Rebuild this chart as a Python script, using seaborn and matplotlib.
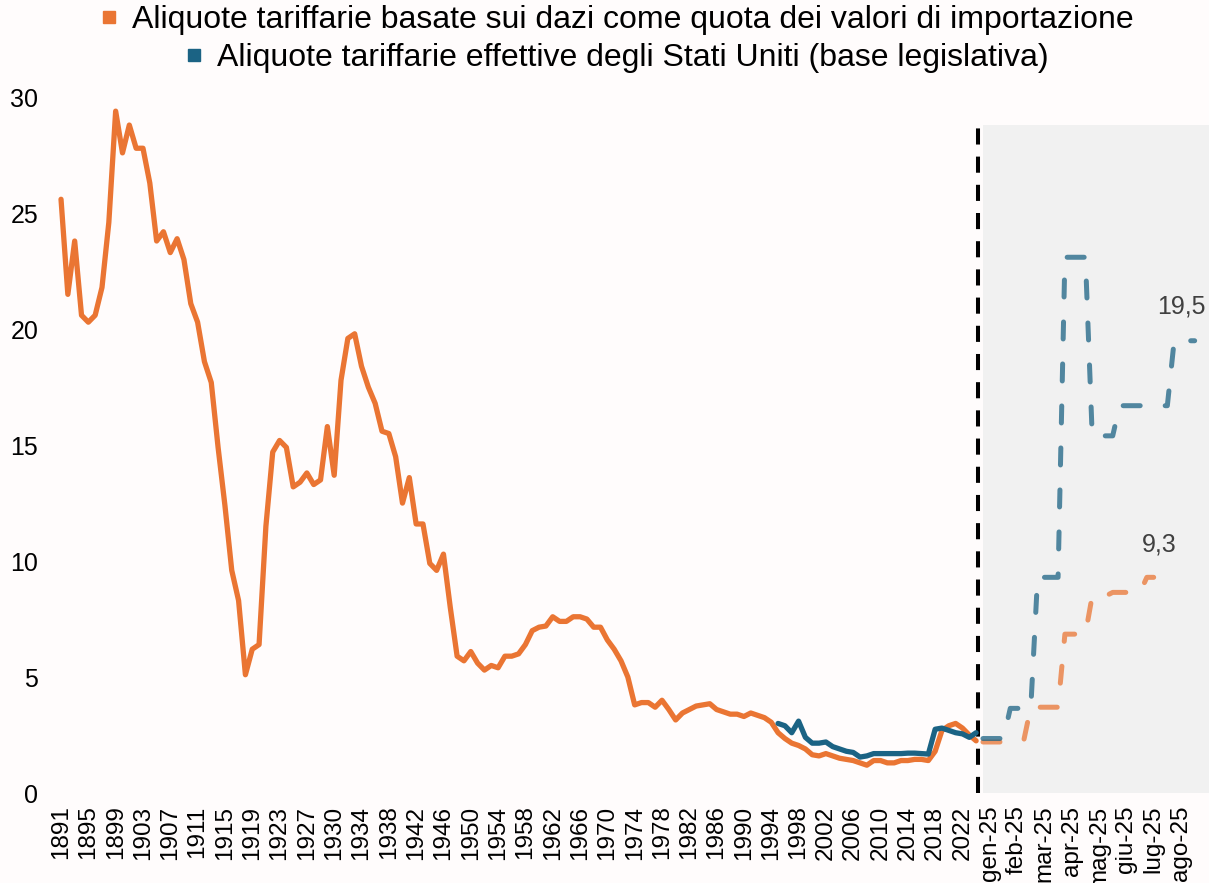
import pandas as pd
import matplotlib.pyplot as plt
from matplotlib.lines import Line2D
import seaborn as sns

# etichette dell'asse x: anni (il 1930 compare due volte nella serie) + settimane 2025
anni = [str(a) for a in range(1891, 1931)] + [str(a) for a in range(1930, 2025)]
settimane = (["gen-25"] * 5 + ["feb-25"] * 4 + ["mar-25"] * 4 + ["apr-25"] * 4
             + ["mag-25"] * 4 + ["giu-25"] * 4 + ["lug-25"] * 4 + ["ago-25"] * 3)

# dazi riscossi / valore importazioni (%), annuale
dazi_quota = [
    25.6, 21.5, 23.8, 20.6, 20.3, 20.6, 21.8, 24.6, 29.4, 27.6,
    28.8, 27.8, 27.8, 26.3, 23.8, 24.2, 23.3, 23.9, 23.0, 21.1,
    20.3, 18.6, 17.7, 14.9, 12.4, 9.6, 8.3, 5.1, 6.2, 6.4,
    11.5, 14.7, 15.2, 14.9, 13.2, 13.4, 13.8, 13.3, 13.5, 15.8,
    13.7, 17.8, 19.6, 19.8, 18.4, 17.5, 16.8, 15.6, 15.5, 14.5,
    12.5, 13.6, 11.6, 11.6, 9.9, 9.6, 10.3, 8.0, 5.9, 5.7,
    6.1, 5.6, 5.3, 5.5, 5.4, 5.9, 5.9, 6.0, 6.4, 7.0,
    7.15, 7.2, 7.6, 7.4, 7.4, 7.6, 7.6, 7.5, 7.15, 7.15,
    6.6, 6.2, 5.7, 5.0, 3.8, 3.9, 3.9, 3.7, 4.0, 3.6,
    3.15, 3.45, 3.6, 3.75, 3.8, 3.85, 3.6, 3.5, 3.4, 3.4,
    3.3, 3.45, 3.35, 3.25, 3.05, 2.6, 2.35, 2.15, 2.05, 1.9,
    1.65, 1.6, 1.7, 1.6, 1.5, 1.45, 1.4, 1.3, 1.2, 1.4,
    1.4, 1.3, 1.3, 1.4, 1.4, 1.45, 1.45, 1.4, 1.8, 2.7,
    2.9, 3.0, 2.8, 2.5, 2.25,
]
# aliquota effettiva (base legislativa), annuale dal 1995
effettiva_inizio = "1995"
effettiva = [
    3.0, 2.9, 2.6, 3.1, 2.4, 2.15, 2.15, 2.2, 2.0, 1.9,
    1.8, 1.75, 1.55, 1.6, 1.7, 1.7, 1.7, 1.7, 1.7, 1.72,
    1.72, 1.7, 1.68, 2.75, 2.8, 2.7, 2.6, 2.55, 2.4, 2.6,
]
# 2025, settimanale
dazi_quota_2025 = [
    2.2, 2.2, 2.2, 2.2, 2.3, 2.3, 2.3, 3.7, 3.7, 3.7,
    3.7, 3.7, 6.85, 6.85, 6.85, 6.85, 8.5, 8.5, 8.5, 8.65,
    8.65, 8.65, 8.65, 8.65, 9.3, 9.3,
]
effettiva_2025 = [
    2.35, 2.35, 2.35, 2.35, 3.65, 3.65, 3.65, 3.65, 9.3, 9.3,
    9.3, 9.3, 23.1, 23.1, 23.1, 23.1, 15.4, 15.4, 15.4, 15.4,
    16.7, 16.7, 16.7, 16.7, 16.7, 16.7, 16.7, 16.7, 19.5, 19.5,
    19.5, 19.5,
]

serie_nomi = ["Aliquote tariffarie basate sui dazi come quota dei valori di importazione",
              "Aliquote tariffarie effettive degli Stati Uniti (base legislativa)"]

ARANCIO = "#ea7533"
BLU = "#1b6384"
SFONDO = "#fffcfc"

sns.set_theme(style="white")
plt.rcParams["font.family"] = ["Liberation Sans", "DejaVu Sans"]

etichette = anni + settimane
n_anni = len(anni)
i0 = anni.index(effettiva_inizio)

df_quota = pd.DataFrame({"x": range(n_anni), "y": dazi_quota})
df_eff = pd.DataFrame({"x": range(i0, i0 + len(effettiva)), "y": effettiva})
df_quota25 = pd.DataFrame({"x": range(n_anni, n_anni + len(dazi_quota_2025)), "y": dazi_quota_2025})
df_eff25 = pd.DataFrame({"x": range(n_anni, n_anni + len(effettiva_2025)), "y": effettiva_2025})

fig = plt.figure(figsize=(12.09, 8.83), dpi=100, facecolor=SFONDO)
ax = fig.add_axes([0.042, 0.1019, 0.958, 0.788])
ax.set_facecolor(SFONDO)

ax.axvspan(n_anni, len(etichette) + 1.1, ymin=0, ymax=0.96, color="#f1f1f1", lw=0, zorder=0)
ax.axvline(n_anni - 0.7, ymin=0, ymax=0.96, color="black", lw=2.9,
           linestyle=(0, (4, 3)), zorder=1)

linea = dict(linewidth=3.8, solid_joinstyle="round", solid_capstyle="round", errorbar=None)
sns.lineplot(data=df_quota, x="x", y="y", ax=ax, color=ARANCIO, zorder=3, **linea)
sns.lineplot(data=df_eff, x="x", y="y", ax=ax, color=BLU, zorder=4, **linea)

tratt = dict(linewidth=3.6, linestyle=(0, (3.4, 5)), dash_capstyle="round",
             alpha=0.75, errorbar=None)
sns.lineplot(data=df_quota25, x="x", y="y", ax=ax, color=ARANCIO, zorder=3, **tratt)
sns.lineplot(data=df_eff25, x="x", y="y", ax=ax, color=BLU, zorder=4, **tratt)

for df, dx, dy in [(df_eff25, -13, 34), (df_quota25, 6, 33)]:
    ultimo = df.iloc[-1]
    ax.annotate(f"{ultimo.y:.1f}".replace(".", ","), xy=(ultimo.x, ultimo.y),
                xytext=(dx, dy), textcoords="offset pixels",
                ha="center", va="center", fontsize=18, color="#404040")

ax.set_xlim(-1.5, len(etichette) + 1.1)
ax.set_ylim(0, 30)
ax.set_xticks(range(0, len(etichette), 4))
ax.set_xticklabels(etichette[::4], rotation=90)
ax.set_yticks(range(0, 31, 5))
ax.tick_params(axis="x", length=0, pad=9, labelsize=17.5, colors="black")
ax.tick_params(axis="y", length=0, pad=9, labelsize=18, colors="black")
ax.set_xlabel("")
ax.set_ylabel("")
ax.grid(False)
sns.despine(ax=ax, left=True, bottom=True)

for nome, colore, ypos in [(serie_nomi[0], ARANCIO, 0.977), (serie_nomi[1], BLU, 0.934)]:
    h = Line2D([], [], marker="s", color=colore, linestyle="none", markersize=9)
    fig.legend(handles=[h], labels=[nome], loc="center", bbox_to_anchor=(0.51, ypos),
               frameon=False, fontsize=23, handlelength=0.6, handletextpad=0.4,
               borderpad=0, borderaxespad=0, labelcolor="black")

fig.savefig("out.png", dpi=100, facecolor=SFONDO)
